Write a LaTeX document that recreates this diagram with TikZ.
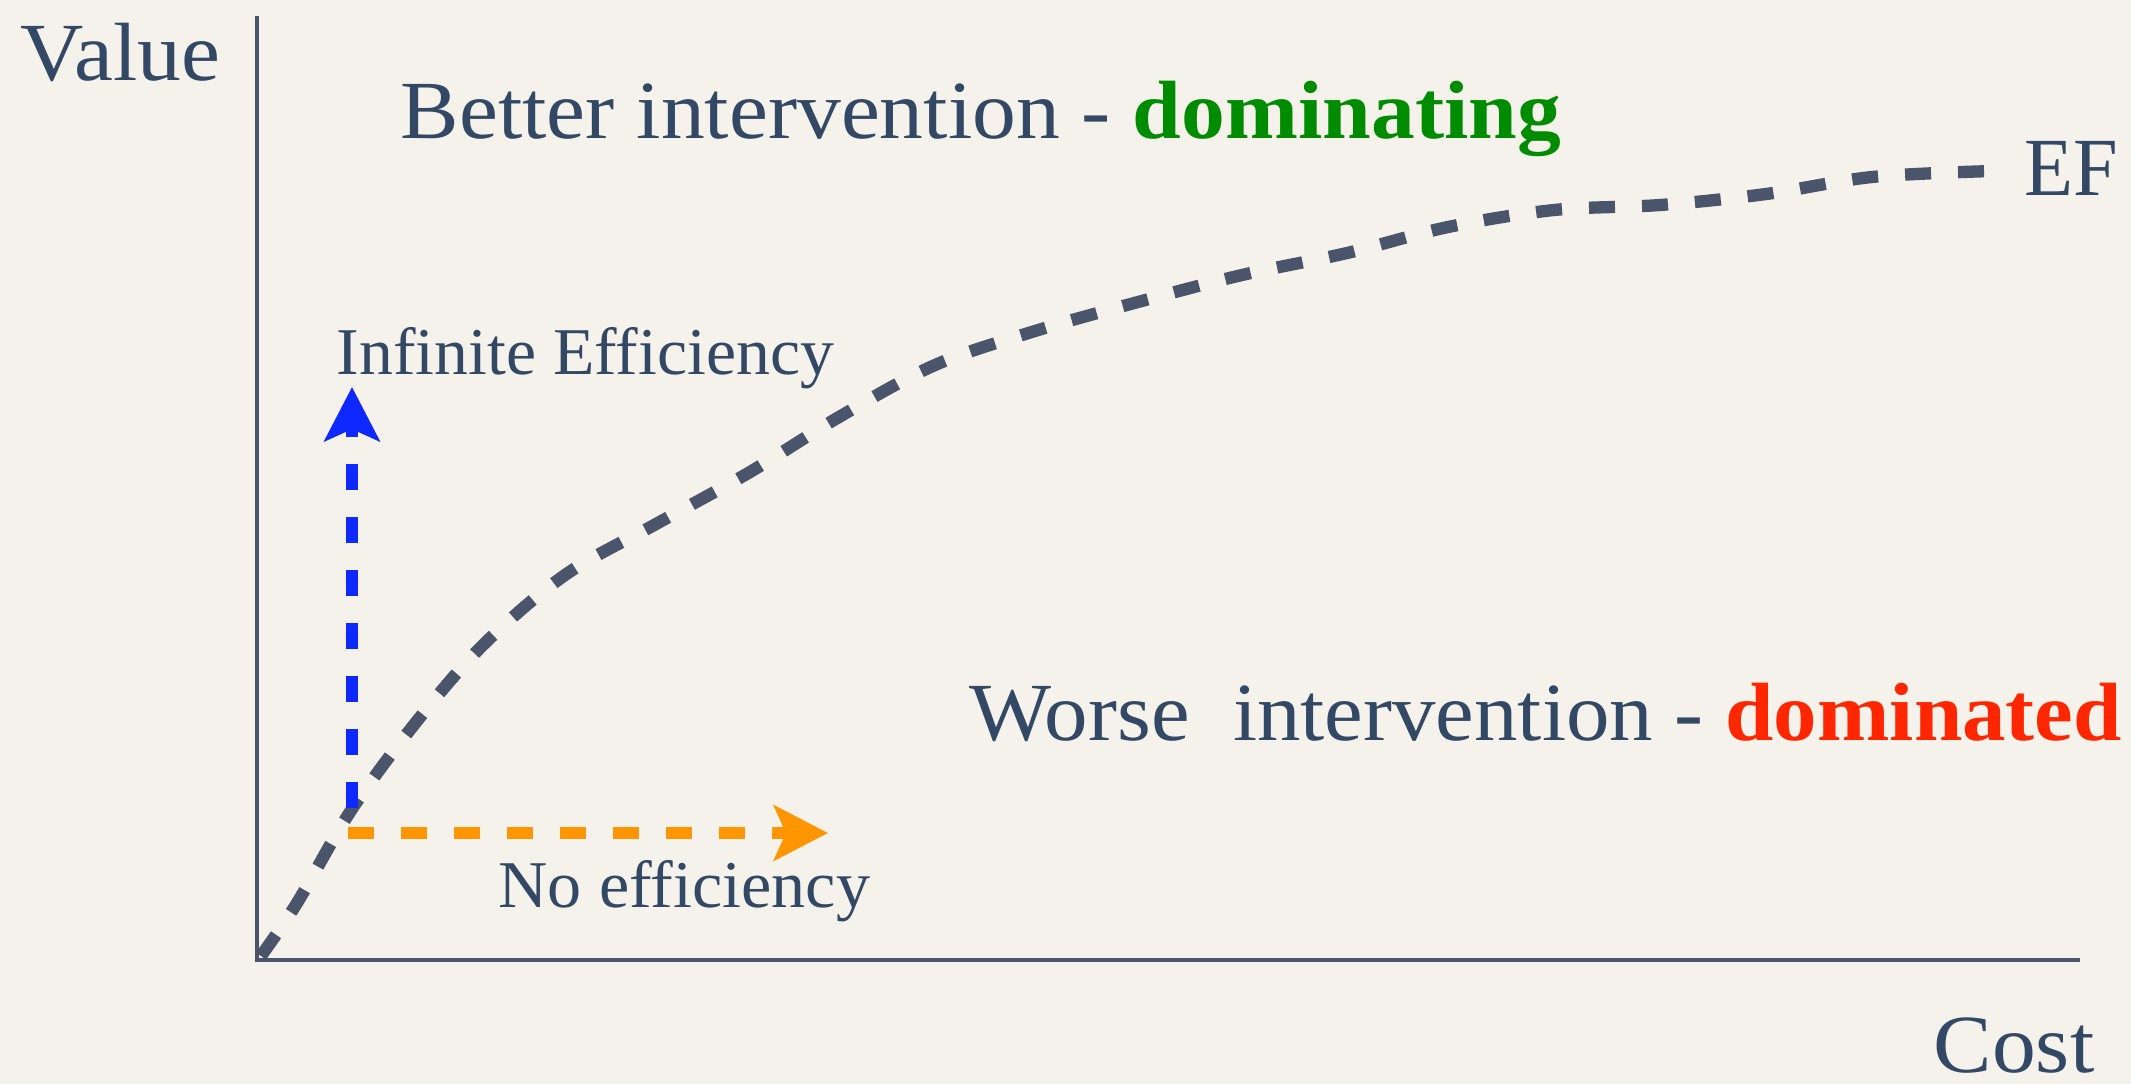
\documentclass[tikz,border=0pt]{standalone}
\usepackage{fontspec}
\setmainfont{Liberation Serif}
\usetikzlibrary{arrows.meta}
\definecolor{bg}{RGB}{245,242,236}
\definecolor{txt}{RGB}{50,72,100}
\definecolor{axisc}{RGB}{74,84,107}
\definecolor{domgreen}{RGB}{0,140,0}
\definecolor{domred}{RGB}{255,38,0}
\definecolor{arrblue}{RGB}{15,40,255}
\definecolor{arrorange}{RGB}{255,149,0}
\tikzset{
  bigtext/.style={inner sep=0pt, anchor=base west, text=txt, font=\fontsize{23.5}{26}\selectfont},
  smalltext/.style={inner sep=0pt, anchor=base west, text=txt, font=\fontsize{19}{22}\selectfont},
  axisline/.style={draw=axisc, line width=1.3pt},
  dashpat/.style={dash pattern=on 0.26cm off 0.27cm},
  efcurve/.style={draw=axisc, line width=3.5pt, dashpat},
  effarrow/.style={line width=3.6pt, dashpat, -{Stealth[length=0.54cm, width=0.55cm, inset=0.12cm]}},
}
\begin{document}
\begin{tikzpicture}[x=0.01cm, y=-0.01cm]
\useasboundingbox[fill=bg] (0,0) rectangle (2131,1084);
% axes
\coordinate (ytop) at (257,16);
\coordinate (origin) at (257,960);
\coordinate (xend) at (2080,960);
\draw[axisline] (ytop) -- (origin) -- (xend);
% labels
\node[bigtext] (value) at (20,80) {\scalebox{1.06}[1]{Value}};
\node[bigtext] (cost) at (1933,1072) {\scalebox{1.06}[1]{Cost}};
\node[bigtext] (better) at (400,138) {\scalebox{1.06}[1]{Better intervention - \textcolor{domgreen}{\bfseries dominating}}};
\node[bigtext] (worse) at (969,740) {\scalebox{1.052}[1]{Worse\ \ intervention - \textcolor{domred}{\bfseries dominated}}};
\node[bigtext] (ef) at (2024,195) {\scalebox{0.97}[1]{EF}};
\node[smalltext] (inf) at (336,374) {\scalebox{1.014}[1]{Infinite Efficiency}};
\node[smalltext] (noeff) at (498,907) {\scalebox{1.02}[1]{No efficiency}};
% efficiency frontier
\coordinate (efstart) at (261,956);
\coordinate (efend) at (1992,171);
\draw[efcurve] plot[smooth, tension=0.55] coordinates {(261,956) (297,903) (350,812) (413,726) (482,646) (565,575) (656,524) (750,472) (839,417) (935,365) (1035,331) (1138,302) (1242,275) (1347,253) (1448,227) (1554,210) (1660,205) (1766,194) (1872,177) (1992,171)};
% arrows
\coordinate (bluestart) at (352,808);
\coordinate (bluetip) at (352,387);
\coordinate (orangestart) at (348,833);
\coordinate (orangetip) at (828,833);
\draw[effarrow, arrblue] (bluestart) -- (bluetip);
\draw[effarrow, arrorange] (orangestart) -- (orangetip);
\end{tikzpicture}
\end{document}
